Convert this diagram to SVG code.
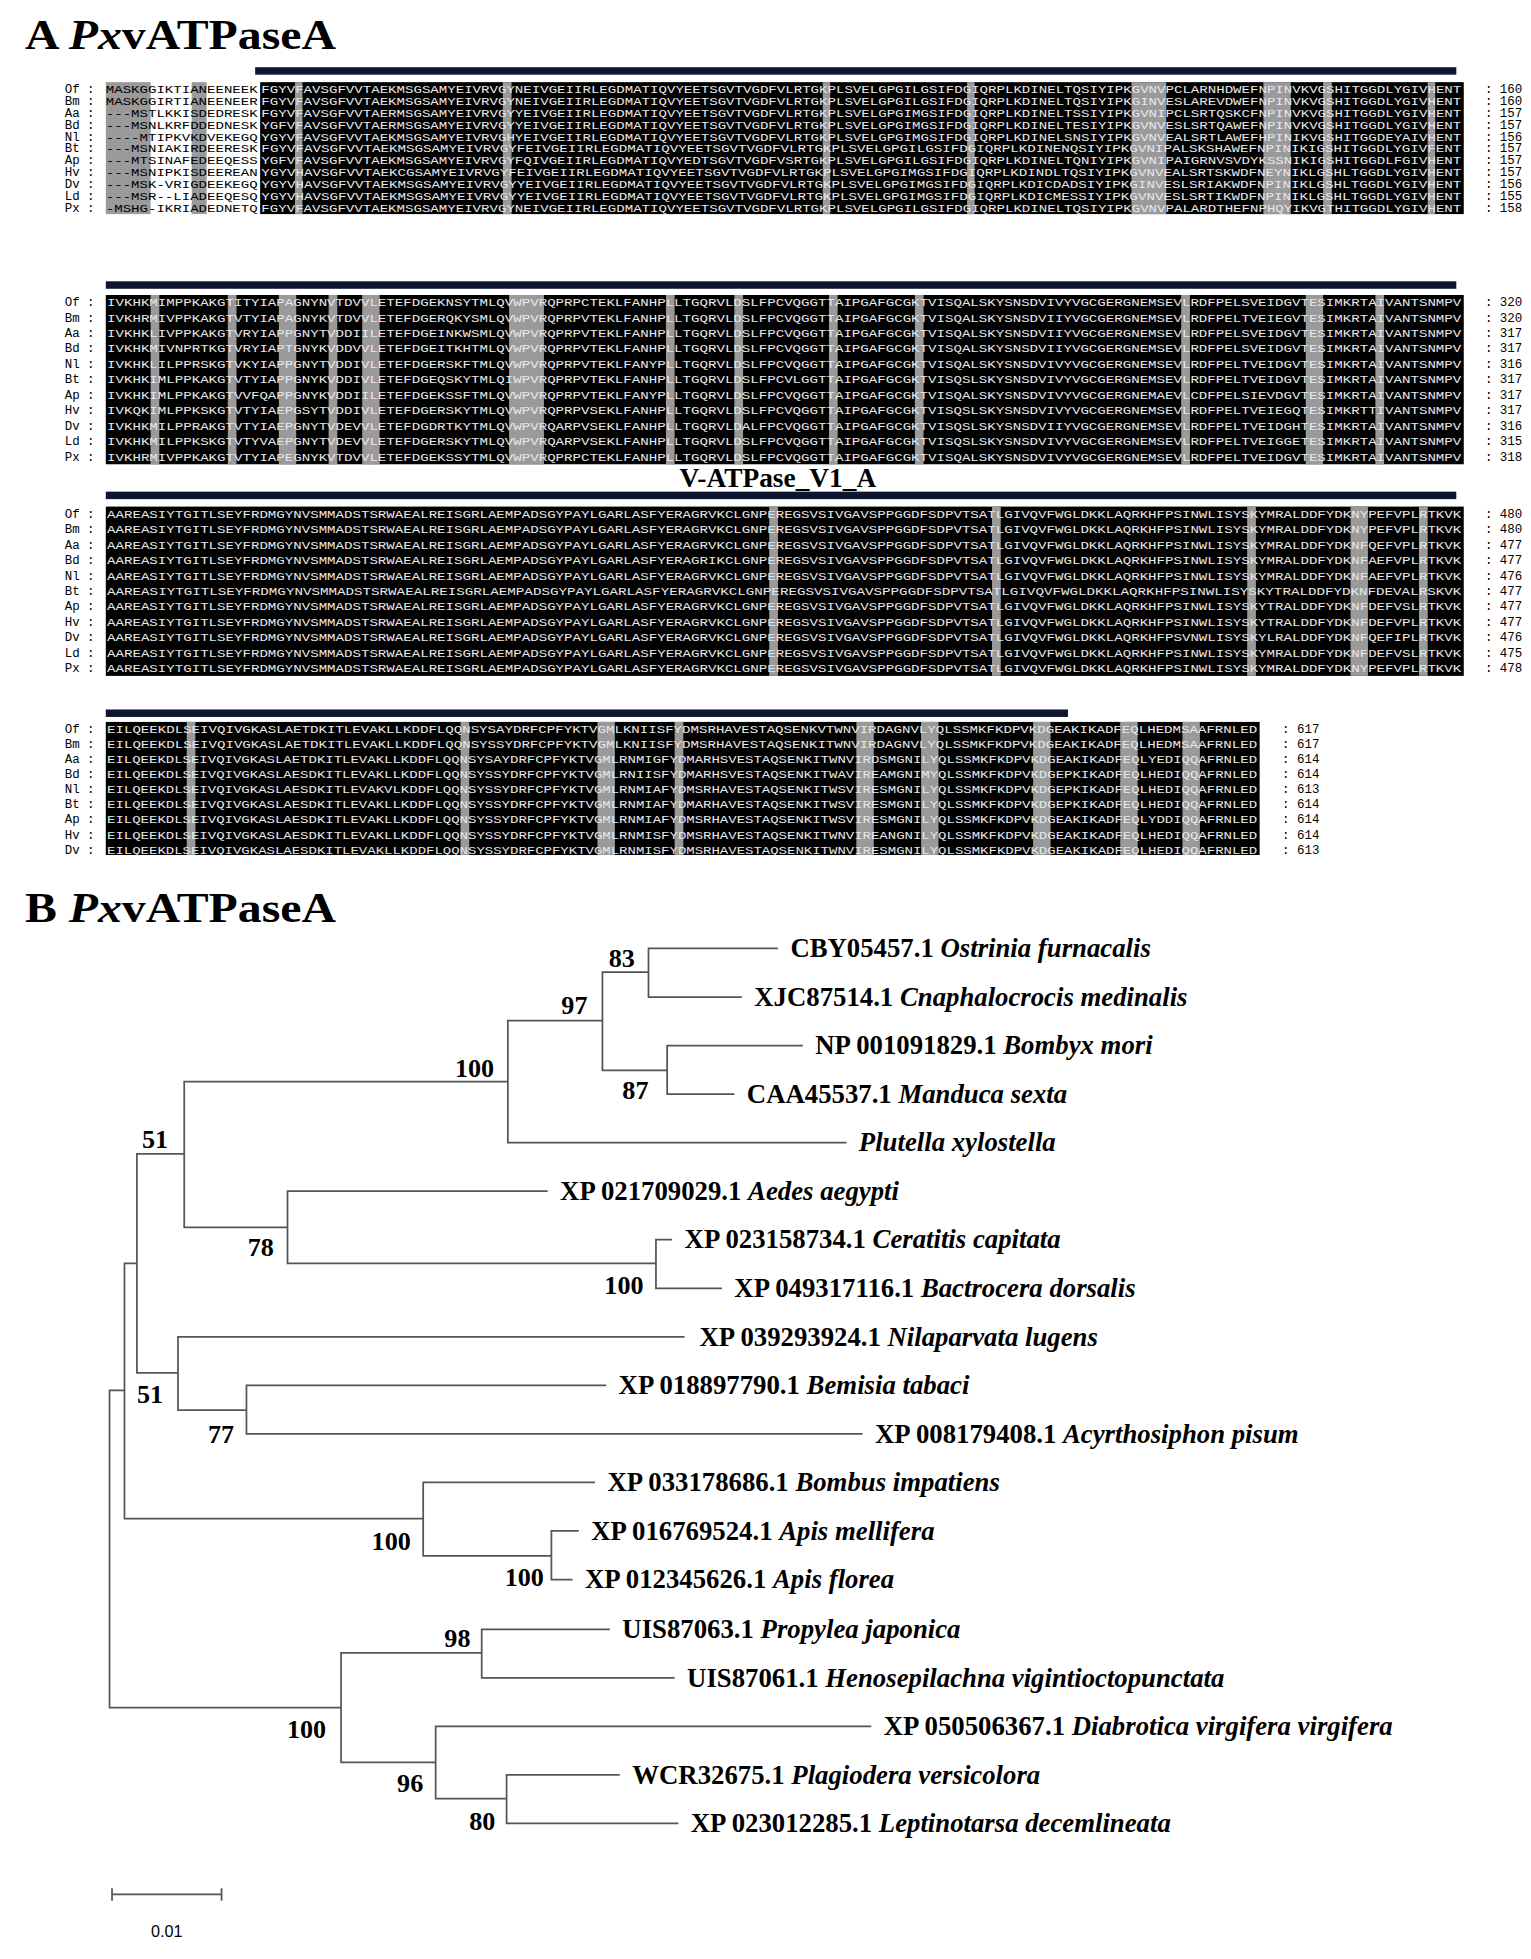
<svg xmlns="http://www.w3.org/2000/svg" width="1531" height="1959" viewBox="0 0 1531 1959">
<style>
.t{font-family:"Liberation Serif","Times New Roman",serif;font-weight:bold;fill:#000}
.i{font-style:italic}
.sq{font-family:"Liberation Mono",monospace;font-size:8.6px;fill:#e8e8e8}
.sqk{font-family:"Liberation Mono",monospace;font-size:8.6px;fill:#000}
.nm{font-family:"Liberation Mono",monospace;font-size:10px;fill:#000}
.br{stroke:#555;stroke-width:1.4;fill:none}
.bar{fill:#0d1530}
.gr{fill:#9a9a9a}
.lf{font-size:21.5px}
</style>
<defs><clipPath id="cp"><rect x="0" y="0" width="1230" height="687"/></clipPath></defs>
<rect width="1531" height="1959" fill="#fff"/>
<g transform="scale(1.2447)">
<g id="panelA" clip-path="url(#cp)">
<text class="t" x="20" y="39" font-size="34" textLength="250" lengthAdjust="spacingAndGlyphs">A <tspan class="i">Px</tspan>vATPaseA</text>
<rect class="bar" x="205" y="54" width="965" height="6"/>
<rect class="bar" x="85" y="226" width="1085" height="6"/>
<rect class="bar" x="85" y="395" width="1085" height="6"/>
<rect class="bar" x="85" y="570" width="773" height="6"/>
<text class="t" x="625" y="391" font-size="22" text-anchor="middle">V-ATPase_V1_A</text>
<rect x="209" y="66" width="967" height="106" fill="#000"/>
<rect x="85" y="237" width="1091" height="136" fill="#000"/>
<rect x="85" y="407" width="1091" height="136" fill="#000"/>
<rect x="85" y="580" width="927" height="110" fill="#000"/>
<g id="stripes">
<rect class="gr" x="85" y="66" width="36" height="106"/><rect class="gr" x="154" y="66" width="12" height="106"/>
<rect class="gr" x="237" y="66" width="6" height="106"/><rect class="gr" x="404" y="66" width="7" height="106"/>
<rect class="gr" x="661" y="66" width="6" height="106"/><rect class="gr" x="777" y="66" width="6" height="106"/>
<rect class="gr" x="909" y="66" width="28" height="106"/><rect class="gr" x="1015" y="66" width="22" height="106"/>
<rect class="gr" x="1063" y="66" width="7" height="106"/><rect class="gr" x="1147" y="66" width="6" height="106"/>
<rect class="gr" x="121" y="237" width="7" height="136"/><rect class="gr" x="183" y="237" width="7" height="136"/>
<rect class="gr" x="224" y="237" width="14" height="136"/><rect class="gr" x="264" y="237" width="7" height="136"/>
<rect class="gr" x="291" y="237" width="14" height="136"/><rect class="gr" x="409" y="237" width="28" height="136"/>
<rect class="gr" x="535" y="237" width="7" height="136"/><rect class="gr" x="590" y="237" width="7" height="136"/>
<rect class="gr" x="666" y="237" width="7" height="136"/><rect class="gr" x="735" y="237" width="7" height="136"/>
<rect class="gr" x="949" y="237" width="7" height="136"/><rect class="gr" x="1049" y="237" width="14" height="136"/>
<rect class="gr" x="1105" y="237" width="7" height="136"/>
<rect class="gr" x="618" y="407" width="7" height="136"/><rect class="gr" x="797" y="407" width="7" height="136"/>
<rect class="gr" x="1002" y="407" width="7" height="136"/><rect class="gr" x="1085" y="407" width="14" height="136"/>
<rect class="gr" x="1140" y="407" width="7" height="136"/>
<rect class="gr" x="150" y="580" width="7" height="110"/><rect class="gr" x="370" y="580" width="7" height="110"/>
<rect class="gr" x="480" y="580" width="14" height="110"/><rect class="gr" x="542" y="580" width="7" height="110"/>
<rect class="gr" x="688" y="580" width="14" height="110"/><rect class="gr" x="740" y="580" width="14" height="110"/>
<rect class="gr" x="830" y="580" width="14" height="110"/><rect class="gr" x="900" y="580" width="14" height="110"/>
<rect class="gr" x="950" y="580" width="14" height="110"/>
</g>
<g id="block1">
<g class="nm"><text x="52" y="75">Of :</text><text x="52" y="84.5">Bm :</text><text x="52" y="94">Aa :</text><text x="52" y="103.5">Bd :</text><text x="52" y="113">Nl :</text><text x="52" y="122.5">Bt :</text><text x="52" y="132">Ap :</text><text x="52" y="141.5">Hv :</text><text x="52" y="151">Dv :</text><text x="52" y="160.5">Ld :</text><text x="52" y="170">Px :</text></g>
<text class="sqk" x="85" y="75" textLength="122" lengthAdjust="spacingAndGlyphs">MASKGGIKTIANEENEEK</text>
<text class="sqk" x="85" y="84.5" textLength="122" lengthAdjust="spacingAndGlyphs">MASKGGIRTIANEENEER</text>
<text class="sqk" x="85" y="94" textLength="122" lengthAdjust="spacingAndGlyphs">---MSTLKKISDEDRESK</text>
<text class="sqk" x="85" y="103.5" textLength="122" lengthAdjust="spacingAndGlyphs">---MSNLKRFDDEDNESK</text>
<text class="sqk" x="85" y="113" textLength="122" lengthAdjust="spacingAndGlyphs">----MTIPKVKDVEKEGQ</text>
<text class="sqk" x="85" y="122.5" textLength="122" lengthAdjust="spacingAndGlyphs">---MSNIAKIRDEERESK</text>
<text class="sqk" x="85" y="132" textLength="122" lengthAdjust="spacingAndGlyphs">---MTSINAFEDEEQESS</text>
<text class="sqk" x="85" y="141.5" textLength="122" lengthAdjust="spacingAndGlyphs">---MSNIPKISDEEREAN</text>
<text class="sqk" x="85" y="151" textLength="122" lengthAdjust="spacingAndGlyphs">---MSK-VRIGDEEKEGQ</text>
<text class="sqk" x="85" y="160.5" textLength="122" lengthAdjust="spacingAndGlyphs">---MSR--LIADEEQESQ</text>
<text class="sqk" x="85" y="170" textLength="122" lengthAdjust="spacingAndGlyphs">-MSHG-IKRIADEDNETQ</text>
<g class="sq">
<text x="210" y="75" textLength="964" lengthAdjust="spacingAndGlyphs">FGYVFAVSGFVVTAEKMSGSAMYEIVRVGYNEIVGEIIRLEGDMATIQVYEETSGVTVGDFVLRTGKPLSVELGPGILGSIFDGIQRPLKDINELTQSIYIPKGVNVPCLARNHDWEFNPINVKVGSHITGGDLYGIVHENT</text>
<text x="210" y="84.5" textLength="964" lengthAdjust="spacingAndGlyphs">FGYVFAVSGFVVTAEKMSGSAMYEIVRVGYNEIVGEIIRLEGDMATIQVYEETSGVTVGDFVLRTGKPLSVELGPGILGSIFDGIQRPLKDINELTQSIYIPKGINVESLAREVDWEFNPINVKVGSHITGGDLYGIVHENT</text>
<text x="210" y="94" textLength="964" lengthAdjust="spacingAndGlyphs">FGYVFAVSGFVVTAERMSGSAMYEIVRVGYYEIVGEIIRLEGDMATIQVYEETSGVTVGDFVLRTGKPLSVELGPGIMGSIFDGIQRPLKDINELTSSIYIPKGVNIPCLSRTQSKCFNPINVKVGSHITGGDLYGIVHENT</text>
<text x="210" y="103.5" textLength="964" lengthAdjust="spacingAndGlyphs">YGFVFAVSGFVVTAERMSGSAMYEIVRVGYYEIVGEIIRLEGDMATIQVYEETSGVTVGDFVLRTGKPLSVELGPGIMGSIFDGIQRPLKDINELTESIYIPKGVNVESLSRTQAWEFNPINVKVGSHITGGDLYGIVHENT</text>
<text x="210" y="113" textLength="964" lengthAdjust="spacingAndGlyphs">YGYVFAVSGFVVTAEKMSGSAMYEIVRVGHYEIVGEIIRLEGDMATIQVYEETSGVTVGDFVLRTGKPLSVELGPGIMGSIFDGIQRPLKDINELSNSIYIPKGVNVEALSRTLAWEFHPINIKVGSHITGGDEYAIVHENT</text>
<text x="210" y="122.5" textLength="964" lengthAdjust="spacingAndGlyphs">FGYVFAVSGFVVTAEKMSGSAMYEIVRVGYFEIVGEIIRLEGDMATIQVYEETSGVTVGDFVLRTGKPLSVELGPGILGSIFDGIQRPLKDINENQSIYIPKGVNIPALSKSHAWEFNPINIKIGSHITGGDLYGIVFENT</text>
<text x="210" y="132" textLength="964" lengthAdjust="spacingAndGlyphs">YGFVFAVSGFVVTAEKMSGSAMYEIVRVGYFQIVGEIIRLEGDMATIQVYEDTSGVTVGDFVSRTGKPLSVELGPGILGSIFDGIQRPLKDINELTQNIYIPKGVNIPAIGRNVSVDYKSSNIKIGSHITGGDLFGIVHENT</text>
<text x="210" y="141.5" textLength="964" lengthAdjust="spacingAndGlyphs">YGYVHAVSGFVVTAEKCGSAMYEIVRVGYFEIVGEIIRLEGDMATIQVYEETSGVTVGDFVLRTGKPLSVELGPGIMGSIFDGIQRPLKDINDLTQSIYIPKGVNVEALSRTSKWDFNEYNIKLGSHLTGGDLYGIVHENT</text>
<text x="210" y="151" textLength="964" lengthAdjust="spacingAndGlyphs">YGYVHAVSGFVVTAEKMSGSAMYEIVRVGYYEIVGEIIRLEGDMATIQVYEETSGVTVGDFVLRTGKPLSVELGPGIMGSIFDGIQRPLKDICDADSIYIPKGINVESLSRIAKWDFNPINIKLGSHLTGGDLYGIVHENT</text>
<text x="210" y="160.5" textLength="964" lengthAdjust="spacingAndGlyphs">YGYVHAVSGFVVTAEKMSGSAMYEIVRVGYYEIVGEIIRLEGDMATIQVYEETSGVTVGDFVLRTGKPLSVELGPGIMGSIFDGIQRPLKDICMESSIYIPKGVNVESLSRTIKWDFNPINIKLGSHLTGGDLYGIVHENT</text>
<text x="210" y="170" textLength="964" lengthAdjust="spacingAndGlyphs">FGYVFAVSGFVVTAEKMSGSAMYEIVRVGYNEIVGEIIRLEGDMATIQVYEETSGVTVGDFVLRTGKPLSVELGPGILGSIFDGIQRPLKDINELTQSIYIPKGVNVPALARDTHEFNPHQYIKVGTHITGGDLYGIVHENT</text>
</g>
<g class="nm"><text x="1193" y="75">: 160</text><text x="1193" y="84.5">: 160</text><text x="1193" y="94">: 157</text><text x="1193" y="103.5">: 157</text><text x="1193" y="113">: 156</text><text x="1193" y="122.5">: 157</text><text x="1193" y="132">: 157</text><text x="1193" y="141.5">: 157</text><text x="1193" y="151">: 156</text><text x="1193" y="160.5">: 155</text><text x="1193" y="170">: 158</text></g>
</g>
<g id="block2">
<g class="nm"><text x="52" y="246">Of :</text><text x="52" y="258.4">Bm :</text><text x="52" y="270.8">Aa :</text><text x="52" y="283.2">Bd :</text><text x="52" y="295.6">Nl :</text><text x="52" y="308">Bt :</text><text x="52" y="320.4">Ap :</text><text x="52" y="332.8">Hv :</text><text x="52" y="345.2">Dv :</text><text x="52" y="357.6">Ld :</text><text x="52" y="370">Px :</text></g>
<g class="sq">
<text x="86" y="246" textLength="1088" lengthAdjust="spacingAndGlyphs">IVKHKMIMPPKAKGTITYIAPAGNYNVTDVVLETEFDGEKNSYTMLQVWPVRQPRPCTEKLFANHPLLTGQRVLDSLFPCVQGGTTAIPGAFGCGKTVISQALSKYSNSDVIVYVGCGERGNEMSEVLRDFPELSVEIDGVTESIMKRTAIVANTSNMPV</text>
<text x="86" y="258.4" textLength="1088" lengthAdjust="spacingAndGlyphs">IVKHRMIVPPKAKGTVTYIAPAGNYKVTDVVLETEFDGERQKYSMLQVWPVRQPRPVTEKLFANHPLLTGQRVLDSLFPCVQGGTTAIPGAFGCGKTVISQALSKYSNSDVIIYVGCGERGNEMSEVLRDFPELTVEIEGVTESIMKRTAIVANTSNMPV</text>
<text x="86" y="270.8" textLength="1088" lengthAdjust="spacingAndGlyphs">IVKHKLIVPPKAKGTVRYIAPPGNYTVDDIILETEFDGEINKWSMLQVWPVRQPRPVTEKLFANHPLLTGQRVLDSLFPCVQGGTTAIPGAFGCGKTVISQALSKYSNSDVIIYVGCGERGNEMSEVLRDFPELSVEIDGVTESIMKRTAIVANTSNMPV</text>
<text x="86" y="283.2" textLength="1088" lengthAdjust="spacingAndGlyphs">IVKHKMIVNPRTKGTVRYIAPTGNYKVDDVVLETEFDGEITKHTMLQVWPVRQPRPVTEKLFANHPLLTGQRVLDSLFPCVQGGTTAIPGAFGCGKTVISQALSKYSNSDVIIYVGCGERGNEMSEVLRDFPELSVEIDGVTESIMKRTAIVANTSNMPV</text>
<text x="86" y="295.6" textLength="1088" lengthAdjust="spacingAndGlyphs">IVKHKLILPPRSKGTVKYIAPPGNYTVDDIVLETEFDGERSKFTMLQVWPVRQPRPVTEKLFANYPLLTGQRVLDSLFPCVQGGTTAIPGAFGCGKTVISQALSKYSNSDVIVYVGCGERGNEMSEVLRDFPELTVEIDGVTESIMKRTAIVANTSNMPV</text>
<text x="86" y="308" textLength="1088" lengthAdjust="spacingAndGlyphs">IVKHKIMLPPKAKGTVTYIAPPGNYKVDDIVLETEFDGEQSKYTMLQIWPVRQPRPVTEKLFANHPLLTGQRVLDSLFPCVLGGTTAIPGAFGCGKTVISQSLSKYSNSDVIVYVGCGERGNEMSEVLRDFPELTVEIDGVTESIMKRTAIVANTSNMPV</text>
<text x="86" y="320.4" textLength="1088" lengthAdjust="spacingAndGlyphs">IVKHKIMLPPKAKGTVVFQAPPGNYKVDDIILETEFDGEKSSFTMLQVWPVRQPRPVTEKLFANYPLLTGQRVLDSLFPCVQGGTTAIPGAFGCGKTVISQALSKYSNSDVIVYVGCGERGNEMAEVLCDFPELSIEVDGVTESIMKRTAIVANTSNMPV</text>
<text x="86" y="332.8" textLength="1088" lengthAdjust="spacingAndGlyphs">IVKQKIMLPPKSKGTVTYIAEPGSYTVDDIVLETEFDGERSKYTMLQVWPVRQPRPVSEKLFANHPLLTGQRVLDSLFPCVQGGTTAIPGAFGCGKTVISQSLSKYSNSDVIVYVGCGERGNEMSEVLRDFPELTVEIEGQTESIMKRTTIVANTSNMPV</text>
<text x="86" y="345.2" textLength="1088" lengthAdjust="spacingAndGlyphs">IVKHKMILPPRAKGTVTYIAEPGNYTVDEVVLETEFDGDRTKYTMLQVWPVRQARPVSEKLFANHPLLTGQRVLDALFPCVQGGTTAIPGAFGCGKTVISQSLSKYSNSDVIIYVGCGERGNEMSEVLRDFPELTVEIDGHTESIMKRTAIVANTSNMPV</text>
<text x="86" y="357.6" textLength="1088" lengthAdjust="spacingAndGlyphs">IVKHKMILPPKSKGTVTYVAEPGNYTVDEVVLETEFDGERSKYTMLQVWPVRQARPVSEKLFANHPLLTGQRVLDSLFPCVQGGTTAIPGAFGCGKTVISQSLSKYSNSDVIVYVGCGERGNEMSEVLRDFPELTVEIGGETESIMKRTAIVANTSNMPV</text>
<text x="86" y="370" textLength="1088" lengthAdjust="spacingAndGlyphs">IVKHRMIVPPKAKGTVTYIAPEGNYKVTDVVLETEFDGEKSSYTMLQVWPVRQPRPCTEKLFANHPLLTGQRVLDSLFPCVQGGTTAIPGAFGCGKTVISQALSKYSNSDVIVYVGCGERGNEMSEVLRDFPELTVEIDGVTESIMKRTAIVANTSNMPV</text>
</g>
<g class="nm"><text x="1193" y="246">: 320</text><text x="1193" y="258.4">: 320</text><text x="1193" y="270.8">: 317</text><text x="1193" y="283.2">: 317</text><text x="1193" y="295.6">: 316</text><text x="1193" y="308">: 317</text><text x="1193" y="320.4">: 317</text><text x="1193" y="332.8">: 317</text><text x="1193" y="345.2">: 316</text><text x="1193" y="357.6">: 315</text><text x="1193" y="370">: 318</text></g>
</g>
<g id="block3">
<g class="nm"><text x="52" y="416">Of :</text><text x="52" y="428.4">Bm :</text><text x="52" y="440.8">Aa :</text><text x="52" y="453.2">Bd :</text><text x="52" y="465.6">Nl :</text><text x="52" y="478">Bt :</text><text x="52" y="490.4">Ap :</text><text x="52" y="502.8">Hv :</text><text x="52" y="515.2">Dv :</text><text x="52" y="527.6">Ld :</text><text x="52" y="540">Px :</text></g>
<g class="sq">
<text x="86" y="416" textLength="1088" lengthAdjust="spacingAndGlyphs">AAREASIYTGITLSEYFRDMGYNVSMMADSTSRWAEALREISGRLAEMPADSGYPAYLGARLASFYERAGRVKCLGNPEREGSVSIVGAVSPPGGDFSDPVTSATLGIVQVFWGLDKKLAQRKHFPSINWLISYSKYMRALDDFYDKNYPEFVPLRTKVK</text>
<text x="86" y="428.4" textLength="1088" lengthAdjust="spacingAndGlyphs">AAREASIYTGITLSEYFRDMGYNVSMMADSTSRWAEALREISGRLAEMPADSGYPAYLGARLASFYERAGRVKCLGNPEREGSVSIVGAVSPPGGDFSDPVTSATLGIVQVFWGLDKKLAQRKHFPSINWLISYSKYMRALDDFYDKNYPEFVPLRTKVK</text>
<text x="86" y="440.8" textLength="1088" lengthAdjust="spacingAndGlyphs">AAREASIYTGITLSEYFRDMGYNVSMMADSTSRWAEALREISGRLAEMPADSGYPAYLGARLASFYERAGRVKCLGNPEREGSVSIVGAVSPPGGDFSDPVTSATLGIVQVFWGLDKKLAQRKHFPSINWLISYSKYMRALDDFYDKNFQEFVPLRTKVK</text>
<text x="86" y="453.2" textLength="1088" lengthAdjust="spacingAndGlyphs">AAREASIYTGITLSEYFRDMGYNVSMMADSTSRWAEALREISGRLAEMPADSGYPAYLGARLASFYERAGRIKCLGNPEREGSVSIVGAVSPPGGDFSDPVTSATLGIVQVFWGLDKKLAQRKHFPSINWLISYSKYMRALDDFYDKNFAEFVPLRTKVK</text>
<text x="86" y="465.6" textLength="1088" lengthAdjust="spacingAndGlyphs">AAREASIYTGITLSEYFRDMGYNVSMMADSTSRWAEALREISGRLAEMPADSGYPAYLGARLASFYERAGRVKCLGNPEREGSVSIVGAVSPPGGDFSDPVTSATLGIVQVFWGLDKKLAQRKHFPSINWLISYSKYMRALDDFYDKNFAEFVPLRTKVK</text>
<text x="86" y="478" textLength="1088" lengthAdjust="spacingAndGlyphs">AAREASIYTGITLSEYFRDMGYNVSMMADSTSRWAEALREISGRLAEMPADSGYPAYLGARLASFYERAGRVKCLGNPEREGSVSIVGAVSPPGGDFSDPVTSATLGIVQVFWGLDKKLAQRKHFPSINWLISYSKYTRALDDFYDKNFDEVALRSKVK</text>
<text x="86" y="490.4" textLength="1088" lengthAdjust="spacingAndGlyphs">AAREASIYTGITLSEYFRDMGYNVSMMADSTSRWAEALREISGRLAEMPADSGYPAYLGARLASFYERAGRVKCLGNPEREGSVSIVGAVSPPGGDFSDPVTSATLGIVQVFWGLDKKLAQRKHFPSINWLISYSKYTRALDDFYDKNFDEFVSLRTKVK</text>
<text x="86" y="502.8" textLength="1088" lengthAdjust="spacingAndGlyphs">AAREASIYTGITLSEYFRDMGYNVSMMADSTSRWAEALREISGRLAEMPADSGYPAYLGARLASFYERAGRVKCLGNPEREGSVSIVGAVSPPGGDFSDPVTSATLGIVQVFWGLDKKLAQRKHFPSINWLISYSKYTRALDDFYDKNFDEFVPLRTKVK</text>
<text x="86" y="515.2" textLength="1088" lengthAdjust="spacingAndGlyphs">AAREASIYTGITLSEYFRDMGYNVSMMADSTSRWAEALREISGRLAEMPADSGYPAYLGARLASFYERAGRVKCLGNPEREGSVSIVGAVSPPGGDFSDPVTSATLGIVQVFWGLDKKLAQRKHFPSVNWLISYSKYLRALDDFYDKNFQEFIPLRTKVK</text>
<text x="86" y="527.6" textLength="1088" lengthAdjust="spacingAndGlyphs">AAREASIYTGITLSEYFRDMGYNVSMMADSTSRWAEALREISGRLAEMPADSGYPAYLGARLASFYERAGRVKCLGNPEREGSVSIVGAVSPPGGDFSDPVTSATLGIVQVFWGLDKKLAQRKHFPSINWLISYSKYMRALDDFYDKNFDEFVSLRTKVK</text>
<text x="86" y="540" textLength="1088" lengthAdjust="spacingAndGlyphs">AAREASIYTGITLSEYFRDMGYNVSMMADSTSRWAEALREISGRLAEMPADSGYPAYLGARLASFYERAGRVKCLGNPEREGSVSIVGAVSPPGGDFSDPVTSATLGIVQVFWGLDKKLAQRKHFPSINWLISYSKYMRALDDFYDKNYPEFVPLRTKVK</text>
</g>
<g class="nm"><text x="1193" y="416">: 480</text><text x="1193" y="428.4">: 480</text><text x="1193" y="440.8">: 477</text><text x="1193" y="453.2">: 477</text><text x="1193" y="465.6">: 476</text><text x="1193" y="478">: 477</text><text x="1193" y="490.4">: 477</text><text x="1193" y="502.8">: 477</text><text x="1193" y="515.2">: 476</text><text x="1193" y="527.6">: 475</text><text x="1193" y="540">: 478</text></g>
</g>
<g id="block4">
<g class="nm"><text x="52" y="589">Of :</text><text x="52" y="601.1">Bm :</text><text x="52" y="613.2">Aa :</text><text x="52" y="625.3">Bd :</text><text x="52" y="637.4">Nl :</text><text x="52" y="649.5">Bt :</text><text x="52" y="661.6">Ap :</text><text x="52" y="673.7">Hv :</text><text x="52" y="685.8">Dv :</text></g>
<g class="sq">
<text x="86" y="589" textLength="924" lengthAdjust="spacingAndGlyphs">EILQEEKDLSEIVQIVGKASLAETDKITLEVAKLLKDDFLQQNSYSAYDRFCPFYKTVGMLKNIISFYDMSRHAVESTAQSENKVTWNVIRDAGNVLYQLSSMKFKDPVKDGEAKIKADFEQLHEDMSAAFRNLED</text>
<text x="86" y="601.1" textLength="924" lengthAdjust="spacingAndGlyphs">EILQEEKDLSEIVQIVGKASLAETDKITLEVAKLLKDDFLQQNSYSSYDRFCPFYKTVGMLKNIISFYDMSRHAVESTAQSENKITWNVIRDAGNVLYQLSSMKFKDPVKDGEAKIKADFEQLHEDMSAAFRNLED</text>
<text x="86" y="613.2" textLength="924" lengthAdjust="spacingAndGlyphs">EILQEEKDLSEIVQIVGKASLAETDKITLEVAKLLKDDFLQQNSYSAYDRFCPFYKTVGMLRNMIGFYDMARHSVESTAQSENKITWNVIRDSMGNILYQLSSMKFKDPVKDGEAKIKADFEQLYEDIQQAFRNLED</text>
<text x="86" y="625.3" textLength="924" lengthAdjust="spacingAndGlyphs">EILQEEKDLSEIVQIVGKASLAESDKITLEVAKLLKDDFLQQNSYSSYDRFCPFYKTVGMLRNIISFYDMARHSVESTAQSENKITWAVIREAMGNIMYQLSSMKFKDPVKDGEPKIKADFEQLHEDIQQAFRNLED</text>
<text x="86" y="637.4" textLength="924" lengthAdjust="spacingAndGlyphs">EILQEEKDLSEIVQIVGKASLAESDKITLEVAKVLKDDFLQQNSYSSYDRFCPFYKTVGMLRNMIAFYDMSRHAVESTAQSENKITWSVIRESMGNILYQLSSMKFKDPVKDGEPKIKADFEQLHEDIQQAFRNLED</text>
<text x="86" y="649.5" textLength="924" lengthAdjust="spacingAndGlyphs">EILQEEKDLSEIVQIVGKASLAESDKITLEVAKLLKDDFLQQNSYSSYDRFCPFYKTVGMLRNMIAFYDMARHAVESTAQSENKITWSVIRESMGNILYQLSSMKFKDPVKDGEPKIKADFEQLHEDIQQAFRNLED</text>
<text x="86" y="661.6" textLength="924" lengthAdjust="spacingAndGlyphs">EILQEEKDLSEIVQIVGKASLAESDKITLEVAKLLKDDFLQQNSYSSYDRFCPFYKTVGMLRNMIAFYDMSRHAVESTAQSENKITWSVIRESMGNILYQLSSMKFKDPVKDGEAKIKADFEQLYDDIQQAFRNLED</text>
<text x="86" y="673.7" textLength="924" lengthAdjust="spacingAndGlyphs">EILQEEKDLSEIVQIVGKASLAESDKITLEVAKLLKDDFLQQNSYSSYDRFCPFYKTVGMLRNMISFYDMSRHAVESTAQSENKITWNVIREANGNILYQLSSMKFKDPVKDGEAKIKADFEQLHEDIQQAFRNLED</text>
<text x="86" y="685.8" textLength="924" lengthAdjust="spacingAndGlyphs">EILQEEKDLSEIVQIVGKASLAESDKITLEVAKLLKDDFLQQNSYSSYDRFCPFYKTVGMLRNMISFYDMSRHAVESTAQSENKITWNVIRESMGNILYQLSSMKFKDPVKDGEAKIKADFEQLHEDIQQAFRNLED</text>
</g>
<g class="nm"><text x="1030" y="589">: 617</text><text x="1030" y="601.1">: 617</text><text x="1030" y="613.2">: 614</text><text x="1030" y="625.3">: 614</text><text x="1030" y="637.4">: 613</text><text x="1030" y="649.5">: 614</text><text x="1030" y="661.6">: 614</text><text x="1030" y="673.7">: 614</text><text x="1030" y="685.8">: 613</text></g>
</g>
</g>
<g id="panelB">
<text class="t" x="20" y="741" font-size="34" textLength="250" lengthAdjust="spacingAndGlyphs">B <tspan class="i">Px</tspan>vATPaseA</text>
<g id="connectors" class="br">
<path d="M625 762H521V801H596"/>
<path d="M645 840H536V879H590"/>
<path d="M521 781H484V860H536"/>
<path d="M484 820H408V918H680"/>
<path d="M540 996H527V1035H580"/>
<path d="M440 957H231V1015H527"/>
<path d="M408 869H148V986H231"/>
<path d="M693 1152H198V1113H487"/>
<path d="M550 1074H143V1133H198"/>
<path d="M148 927H110V1103H143"/>
<path d="M465 1230H443V1269H460"/>
<path d="M478 1191H340V1250H443"/>
<path d="M110 1015H100V1220H340"/>
<path d="M490 1309H387V1348H542"/>
<path d="M498 1426H407V1465H545"/>
<path d="M700 1387H350V1445H407"/>
<path d="M387 1328H274V1416H350"/>
<path d="M100 1117H88V1372H274"/>
<path d="M90 1522H178M90 1517V1527M178 1517V1527"/>
</g>
<g id="bootstrap" class="t" font-size="21" text-anchor="end">
<text x="510" y="777">83</text><text x="521" y="883">87</text><text x="472" y="815">97</text><text x="397" y="865">100</text>
<text x="517" y="1040">100</text><text x="220" y="1009">78</text><text x="135" y="922">51</text>
<text x="188" y="1159">77</text><text x="131" y="1127">51</text>
<text x="437" y="1274">100</text><text x="330" y="1245">100</text>
<text x="378" y="1323">98</text><text x="398" y="1470">80</text><text x="340" y="1440">96</text><text x="262" y="1396">100</text>
</g>
<g id="leaves" class="t lf">
<text x="635" y="769">CBY05457.1 <tspan class="i">Ostrinia furnacalis</tspan></text>
<text x="606" y="808">XJC87514.1 <tspan class="i">Cnaphalocrocis medinalis</tspan></text>
<text x="655" y="847">NP 001091829.1 <tspan class="i">Bombyx mori</tspan></text>
<text x="600" y="886">CAA45537.1 <tspan class="i">Manduca sexta</tspan></text>
<text x="690" y="925" class="t i lf">Plutella xylostella</text>
<text x="450" y="964">XP 021709029.1 <tspan class="i">Aedes aegypti</tspan></text>
<text x="550" y="1003">XP 023158734.1 <tspan class="i">Ceratitis capitata</tspan></text>
<text x="590" y="1042">XP 049317116.1 <tspan class="i">Bactrocera dorsalis</tspan></text>
<text x="562" y="1081">XP 039293924.1 <tspan class="i">Nilaparvata lugens</tspan></text>
<text x="497" y="1120">XP 018897790.1 <tspan class="i">Bemisia tabaci</tspan></text>
<text x="703" y="1159">XP 008179408.1 <tspan class="i">Acyrthosiphon pisum</tspan></text>
<text x="488" y="1198">XP 033178686.1 <tspan class="i">Bombus impatiens</tspan></text>
<text x="475" y="1237">XP 016769524.1 <tspan class="i">Apis mellifera</tspan></text>
<text x="470" y="1276">XP 012345626.1 <tspan class="i">Apis florea</tspan></text>
<text x="500" y="1316">UIS87063.1 <tspan class="i">Propylea japonica</tspan></text>
<text x="552" y="1355">UIS87061.1 <tspan class="i">Henosepilachna vigintioctopunctata</tspan></text>
<text x="710" y="1394">XP 050506367.1 <tspan class="i">Diabrotica virgifera virgifera</tspan></text>
<text x="508" y="1433">WCR32675.1 <tspan class="i">Plagiodera versicolora</tspan></text>
<text x="555" y="1472">XP 023012285.1 <tspan class="i">Leptinotarsa decemlineata</tspan></text>
</g>
<text x="134" y="1556" font-family="Liberation Sans, Arial, sans-serif" font-size="13" text-anchor="middle">0.01</text>
</g>
</g>
</svg>
